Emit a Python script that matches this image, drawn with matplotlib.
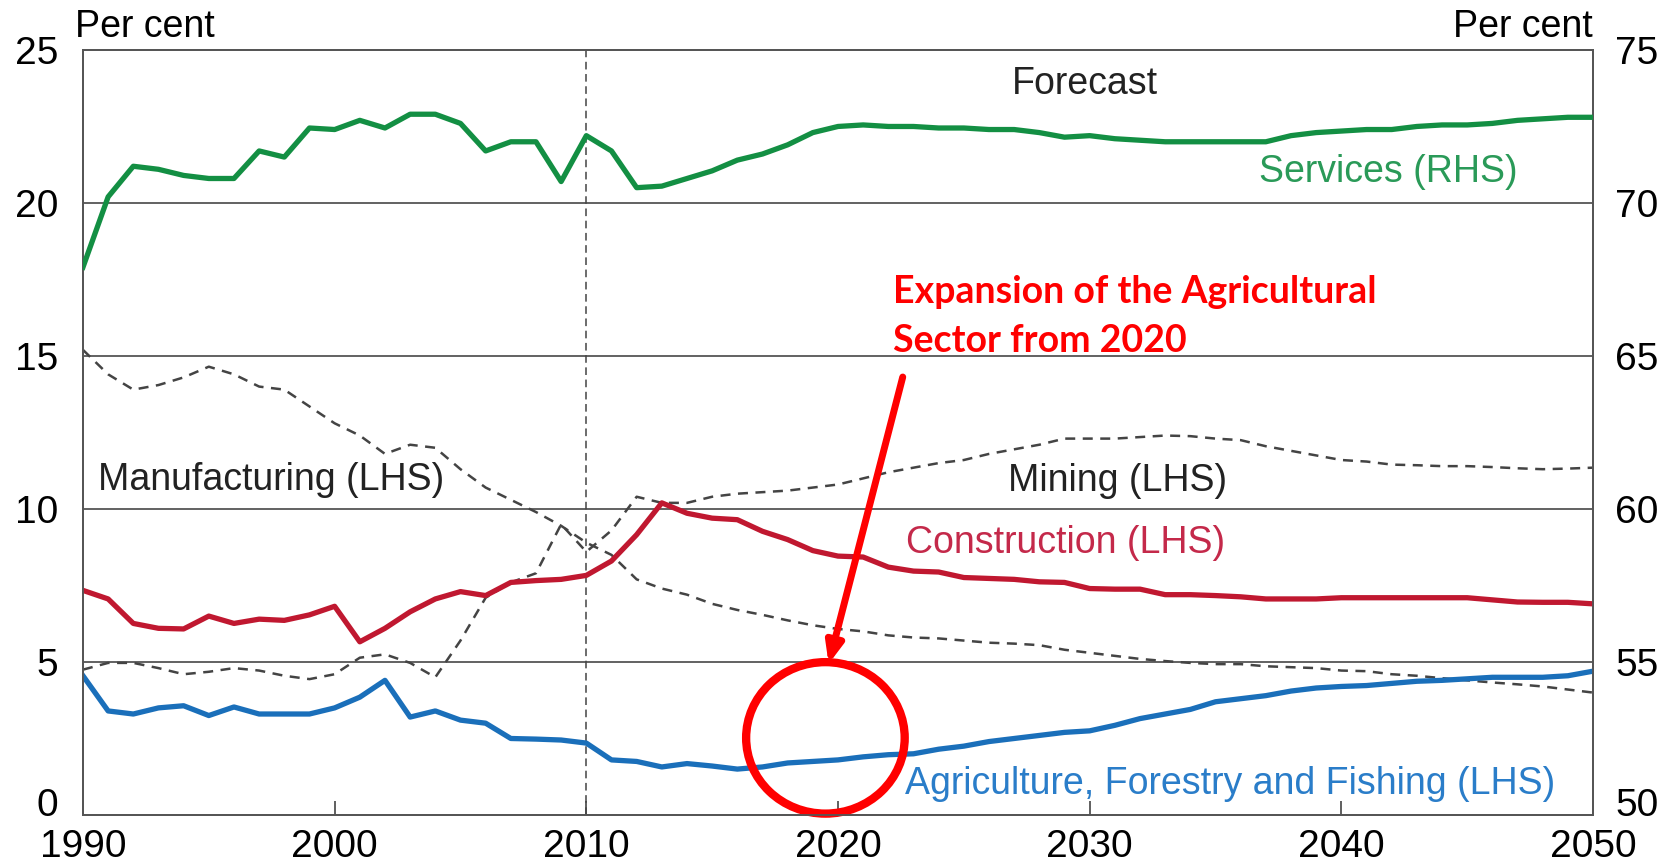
import numpy as np
import matplotlib.pyplot as plt
from matplotlib.patches import Ellipse
from matplotlib.transforms import ScaledTranslation

years = np.arange(1990, 2051)

services = [67.9, 70.2, 71.2, 71.1, 70.9, 70.8, 70.8, 71.7, 71.5, 72.45,
            72.4, 72.7, 72.45, 72.9, 72.9, 72.6, 71.7, 72.0, 72.0, 70.7,
            72.2, 71.7, 70.5, 70.55, 70.8, 71.05, 71.4, 71.6, 71.9, 72.3,
            72.5, 72.55, 72.5, 72.5, 72.45, 72.45, 72.4, 72.4, 72.3, 72.15,
            72.2, 72.1, 72.05, 72.0, 72.0, 72.0, 72.0, 72.0, 72.2, 72.3,
            72.35, 72.4, 72.4, 72.5, 72.55, 72.55, 72.6, 72.7, 72.75, 72.8,
            72.8]

construction = [7.34, 7.06, 6.26, 6.1, 6.08, 6.5, 6.26, 6.4, 6.36, 6.54,
                6.82, 5.66, 6.1, 6.64, 7.06, 7.3, 7.17, 7.6, 7.66, 7.7,
                7.83, 8.3, 9.16, 10.2, 9.86, 9.7, 9.65, 9.27, 9.0, 8.64,
                8.46, 8.43, 8.1, 7.97, 7.94, 7.76, 7.73, 7.7, 7.62, 7.6,
                7.4, 7.38, 7.38, 7.2, 7.2, 7.17, 7.13, 7.06, 7.06, 7.06,
                7.1, 7.1, 7.1, 7.1, 7.1, 7.1, 7.03, 6.96, 6.95, 6.95,
                6.9]

agriculture = [4.55, 3.4, 3.3, 3.5, 3.57, 3.25, 3.53, 3.3, 3.3, 3.3,
               3.5, 3.85, 4.4, 3.2, 3.4, 3.1, 3.0, 2.5, 2.48, 2.45,
               2.35, 1.8, 1.75, 1.57, 1.68, 1.6, 1.5, 1.57, 1.7, 1.75,
               1.8, 1.9, 1.97, 2.0, 2.15, 2.25, 2.4, 2.5, 2.6, 2.7,
               2.75, 2.93, 3.15, 3.3, 3.45, 3.7, 3.8, 3.9, 4.05, 4.15,
               4.2, 4.23, 4.3, 4.37, 4.4, 4.45, 4.5, 4.5, 4.5, 4.55,
               4.7]

manufacturing = [15.2, 14.4, 13.9, 14.05, 14.3, 14.65, 14.4, 14.0, 13.9, 13.35,
                 12.8, 12.4, 11.8, 12.1, 12.0, 11.3, 10.7, 10.3, 9.9, 9.45,
                 8.9, 8.5, 7.7, 7.4, 7.2, 6.9, 6.7, 6.54, 6.36, 6.2,
                 6.08, 6.0, 5.87, 5.8, 5.77, 5.7, 5.63, 5.6, 5.55, 5.4,
                 5.3, 5.2, 5.1, 5.03, 4.97, 4.93, 4.93, 4.86, 4.83, 4.8,
                 4.72, 4.7, 4.6, 4.55, 4.47, 4.4, 4.33, 4.27, 4.2, 4.1,
                 4.0]

mining = [4.75, 4.97, 4.97, 4.8, 4.6, 4.68, 4.8, 4.72, 4.55, 4.44,
          4.6, 5.14, 5.25, 4.97, 4.5, 5.7, 7.1, 7.6, 7.9, 9.5,
          8.6, 9.3, 10.4, 10.2, 10.2, 10.4, 10.5, 10.55, 10.6, 10.7,
          10.8, 11.0, 11.2, 11.35, 11.5, 11.6, 11.8, 11.95, 12.1, 12.3,
          12.3, 12.3, 12.35, 12.4, 12.38, 12.3, 12.25, 12.05, 11.9, 11.75,
          11.6, 11.55, 11.45, 11.43, 11.4, 11.4, 11.37, 11.33, 11.3, 11.32,
          11.35]

green = '#138f43'
red = '#c01830'
blue = '#1a6fba'

plt.rcParams['font.family'] = ['Liberation Sans', 'DejaVu Sans']

fig = plt.figure(figsize=(16.76, 8.66), dpi=100)
ax = fig.add_axes([0.0495, 0.0589, 0.901, 0.8834])
ax2 = ax.twinx()

ax.set_xlim(1990, 2050)
ax.set_ylim(0, 25)
ax2.set_ylim(50, 75)

for y in [5, 10, 15, 20]:
    ax.axhline(y, color='#555555', lw=1.3, zorder=1)
ax.axvline(2010, color='#444444', lw=1.1, ls=(0, (5, 3)), zorder=1)

ax.plot(years, manufacturing, color='#444444', lw=1.8, ls=(0, (4, 3)), zorder=2)
ax.plot(years, mining, color='#444444', lw=1.8, ls=(0, (4, 3)), zorder=2)
ax.plot(years, construction, color=red, lw=3.8, zorder=3)
ax.plot(years, agriculture, color=blue, lw=3.8, zorder=3)
ax2.plot(years, services, color=green, lw=3.8, zorder=3)

ax.set_xticks(range(1990, 2051, 10))
ax.set_yticks(range(0, 26, 5))
ax2.set_yticks(range(50, 76, 5))
ax.tick_params(axis='x', direction='in', length=10, width=1.2, color='#444444',
               labelsize=28, pad=10)
ax.tick_params(axis='y', length=0, labelsize=28, pad=18)
ax2.tick_params(axis='y', length=0, labelsize=28, pad=16)
for a in (ax, ax2):
    for s in a.spines.values():
        s.set_color('#555555')
        s.set_linewidth(1.3)

# lift the bottom y labels off the x labels
lift = ScaledTranslation(0, 0.13, fig.dpi_scale_trans)
t0 = ax.yaxis.get_major_ticks()[0].label1
t0.set_transform(t0.get_transform() + lift)
t1 = ax2.yaxis.get_major_ticks()[0].label2
t1.set_transform(t1.get_transform() + lift)

ax.text(2029.8, 23.9, 'Forecast', fontsize=27, ha='center', va='center', color='#222222')
ax.text(2047, 21.0, 'Services (RHS)', fontsize=27, ha='right', va='center', color='#2a9a58')
ax.text(1990.6, 10.62, 'Manufacturing (LHS)', fontsize=27, ha='left', va='baseline', color='#222222')
ax.text(2031.1, 10.9, 'Mining (LHS)', fontsize=27, ha='center', va='center', color='#222222')
ax.text(2029.05, 8.88, 'Construction (LHS)', fontsize=27, ha='center', va='center', color='#c4294a')
ax.text(2048.5, 1.0, 'Agriculture, Forestry and Fishing (LHS)', fontsize=27,
        ha='right', va='center', color='#2a7dc9')

fig.text(0.0447, 0.957, 'Per cent', fontsize=27, ha='left', va='baseline')
fig.text(0.9505, 0.957, 'Per cent', fontsize=27, ha='right', va='baseline')

ax.text(2022.18, 16.73, 'Expansion of the Agricultural', fontsize=27,
        family=['Lato', 'DejaVu Sans'], fontweight='bold', color='#ff0000',
        ha='left', va='baseline')
ax.text(2022.18, 15.13, 'Sector from 2020', fontsize=27,
        family=['Lato', 'DejaVu Sans'], fontweight='bold', color='#ff0000',
        ha='left', va='baseline')
ax.annotate('', xy=(2019.6, 4.85), xytext=(2022.6, 14.4),
            arrowprops=dict(arrowstyle='-|>,head_length=1.2,head_width=0.5',
                            color='#ff0000', lw=5), zorder=5)
ax.add_patch(Ellipse((2019.5, 2.52), 6.3, 4.95, fill=False, ec='#ff0000', lw=6,
                     zorder=5, clip_on=False))

fig.savefig('out.png', dpi=100)
